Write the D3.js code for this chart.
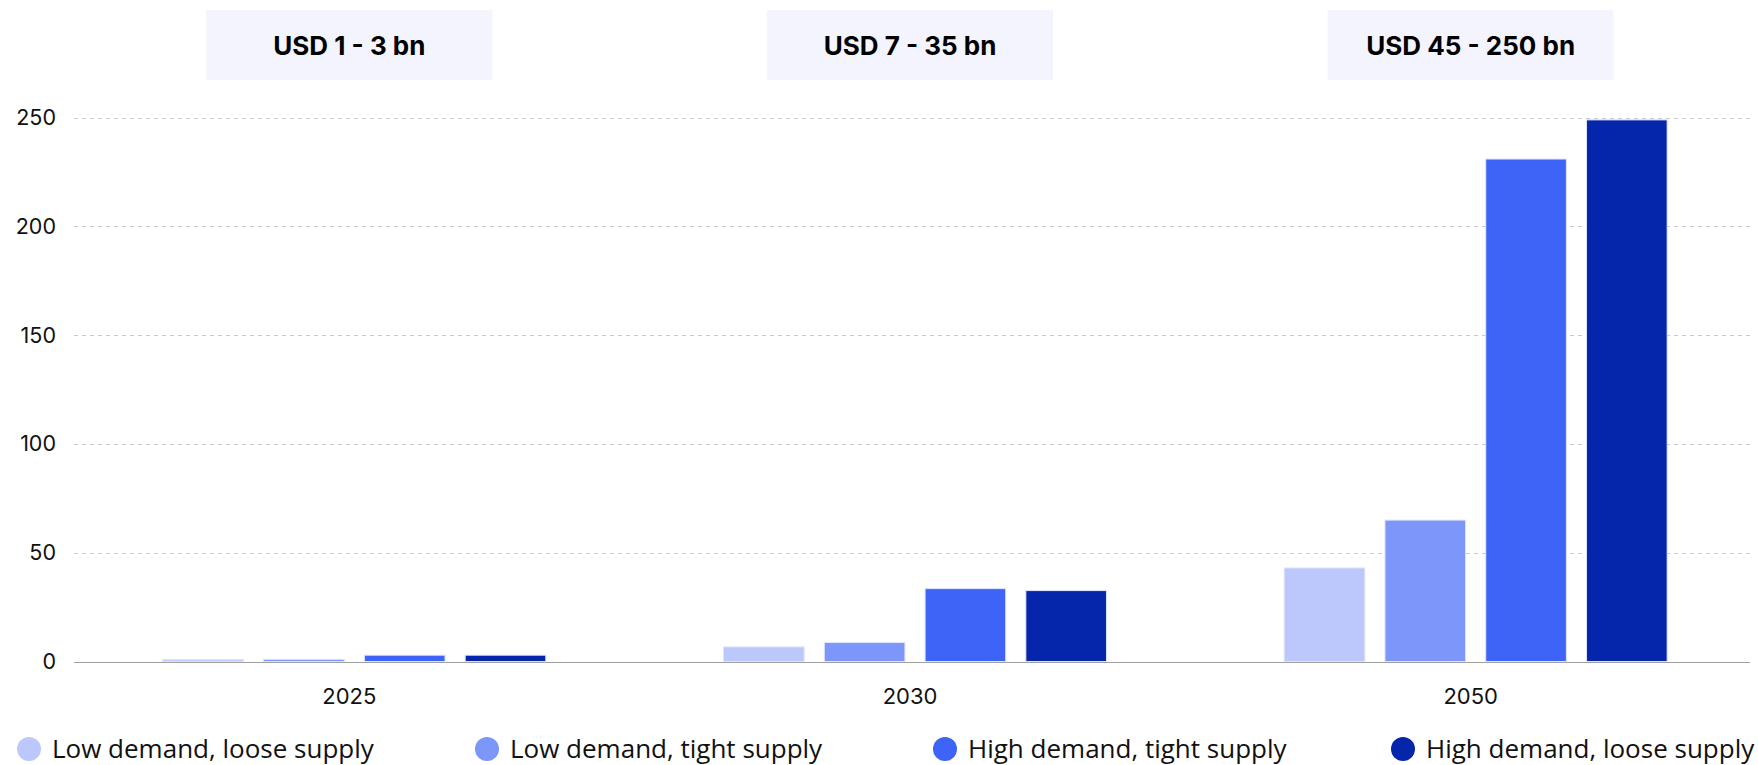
<!DOCTYPE html>
<head>
  <meta charset="utf-8">
  <script src="https://d3js.org/d3.v7.min.js"></script>
  <style>
    body { margin: 0; background: white; }
    svg { display: block; }
  </style>
</head>
<body>
  <div id="chartDiv"></div>
  <script>

  var years = ["2025", "2030", "2050"];
  var seriesNames = ["Low demand, loose supply", "Low demand, tight supply", "High demand, tight supply", "High demand, loose supply"];
  var seriesColors = ["#BCC8FC", "#7C96F9", "#3E63F7", "#0526AA"];
  var lowLoose = [0.9, 6.7, 43];
  var lowTight = [1.0, 8.7, 65];
  var highTight = [2.9, 33.5, 231];
  var highLoose = [2.9, 32.6, 249];
  var rangeLabels = ["USD 1 - 3 bn", "USD 7 - 35 bn", "USD 45 - 250 bn"];
  var yTicks = [0, 50, 100, 150, 200, 250];

  var seriesValues = [lowLoose, lowTight, highTight, highLoose];

  var width = 1758;
  var height = 765;

  var svg = d3.select("#chartDiv").append("svg")
    .attr("width", width)
    .attr("height", height);

  var x0 = d3.scaleBand()
    .domain(years)
    .range([74, 1756])
    .paddingInner(0.317)
    .paddingOuter(0.1585);

  var x1 = d3.scaleBand()
    .domain(seriesNames)
    .range([0, x0.bandwidth()])
    .paddingInner(0.2);

  var y = d3.scaleLinear()
    .domain([0, 250])
    .range([661.5, 117.7]);

  // labels and header boxes sit a few px left of the bar groups in the original
  var labelShift = -5;

  // grid lines + y labels
  var yAxis = svg.append("g")
    .attr("transform", "translate(74,0)")
    .call(d3.axisLeft(y).tickValues(yTicks).tickSize(0).tickPadding(18));
  yAxis.select(".domain").remove();
  yAxis.selectAll("text")
    .style("font-family", "Inter, sans-serif")
    .style("font-size", "21.5px")
    .style("fill", "#111");

  svg.append("g")
    .selectAll("line")
    .data(yTicks.filter(function(d) { return d > 0; }))
    .enter()
    .append("line")
    .attr("x1", 74)
    .attr("x2", 1750)
    .attr("y1", function(d) { return Math.round(y(d)) + 0.5; })
    .attr("y2", function(d) { return Math.round(y(d)) + 0.5; })
    .style("stroke", "#c8c8c8")
    .style("stroke-width", 1)
    .style("stroke-dasharray", "4,4");

  // header boxes
  var headers = svg.append("g")
    .selectAll("g")
    .data(years)
    .enter()
    .append("g")
    .attr("transform", function(d) { return "translate(" + (x0(d) + x0.bandwidth() / 2 + labelShift) + ",0)"; });

  headers.append("rect")
    .attr("x", -143)
    .attr("y", 10)
    .attr("width", 286)
    .attr("height", 70)
    .style("fill", "#F4F4FE");

  headers.append("text")
    .attr("x", 0)
    .attr("y", 55)
    .attr("text-anchor", "middle")
    .style("font-family", "Inter, sans-serif")
    .style("font-weight", "bold")
    .style("font-size", "26px")
    .style("fill", "#000")
    .text(function(d, i) { return rangeLabels[i]; });

  // bars
  var groups = svg.append("g")
    .selectAll("g")
    .data(years)
    .enter()
    .append("g")
    .attr("transform", function(d) { return "translate(" + x0(d) + ",0)"; });

  groups.selectAll("rect")
    .data(function(d, i) {
      return seriesNames.map(function(s, j) { return { name: s, value: seriesValues[j][i], color: seriesColors[j] }; });
    })
    .enter()
    .append("rect")
    .attr("x", function(d) { return x1(d.name); })
    .attr("y", function(d) { return y(d.value); })
    .attr("width", x1.bandwidth())
    .attr("height", function(d) { return y(0) - y(d.value); })
    .style("fill", function(d) { return d.color; })
    .style("stroke", "#dfe4fd")
    .style("stroke-width", 1);

  // x axis
  var xAxis = svg.append("g")
    .attr("transform", "translate(0," + (Math.round(y(0)) + 0.5) + ")")
    .call(d3.axisBottom(x0).tickSize(0).tickPadding(26).tickSizeOuter(0));
  xAxis.select(".domain")
    .attr("d", "M74,0H1750")
    .style("stroke", "#a0a0a0")
    .style("stroke-width", 1.2);
  xAxis.selectAll(".tick")
    .attr("transform", function(d) { return "translate(" + (x0(d) + x0.bandwidth() / 2 + labelShift) + ",0)"; });
  xAxis.selectAll("text")
    .style("font-family", "Inter, sans-serif")
    .style("font-size", "22px")
    .style("fill", "#111");

  // legend
  var legend = svg.append("g")
    .selectAll("g")
    .data(seriesNames)
    .enter()
    .append("g")
    .attr("transform", function(d, i) { return "translate(" + (29 + i * 458) + ",749)"; });

  legend.append("circle")
    .attr("r", 12)
    .style("fill", function(d, i) { return seriesColors[i]; });

  legend.append("text")
    .attr("x", 23)
    .attr("y", 9)
    .style("font-family", "'Open Sans', sans-serif")
    .style("font-size", "26px")
    .style("fill", "#111")
    .text(function(d) { return d; });

  </script>
</body>
